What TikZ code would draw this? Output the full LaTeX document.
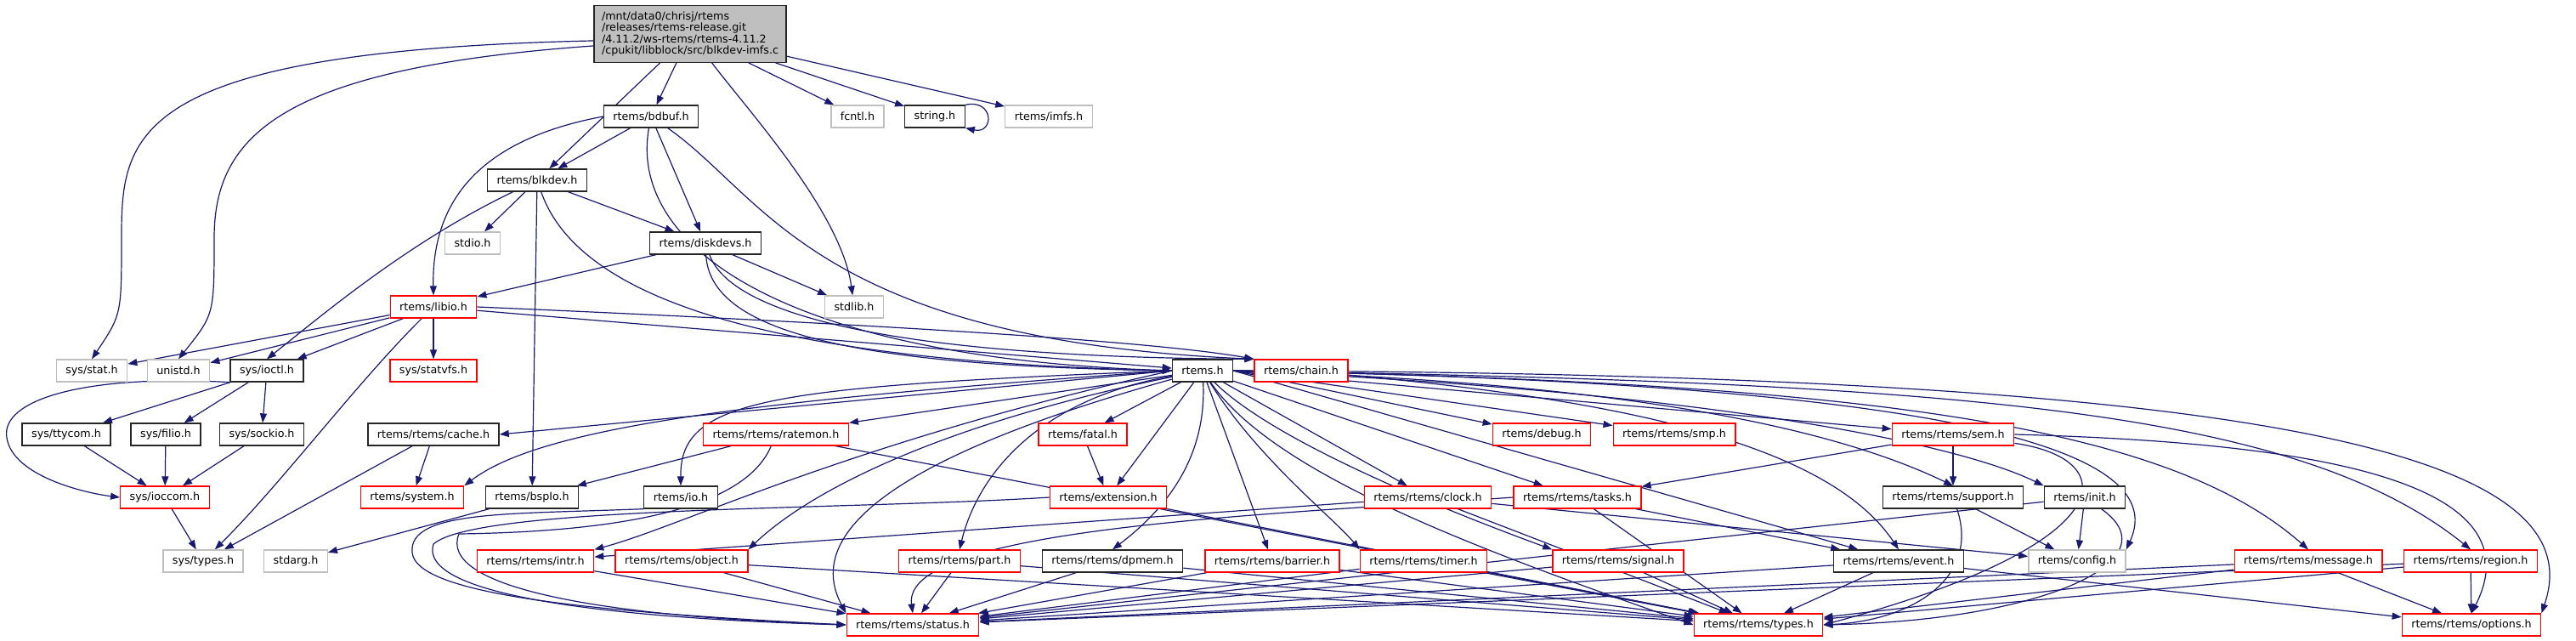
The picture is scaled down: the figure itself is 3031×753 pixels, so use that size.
\documentclass[tikz,border=0pt]{standalone}
\usepackage{fontspec}
\setmainfont{DejaVu Sans}
\usetikzlibrary{arrows.meta,backgrounds}
\definecolor{edgeblue}{RGB}{25,25,112}
\definecolor{nodegrey}{RGB}{191,191,191}
\begin{document}
\begin{tikzpicture}[x=1pt,y=-1pt,
    hbox/.style={draw, line width=1.3pt, fill=white, minimum height=26pt, inner xsep=11pt, inner ysep=0pt, font=\fontsize{12.7}{14}\selectfont},
    blackbox/.style={hbox, draw=black!85},
    redbox/.style={hbox, draw=red},
    greybox/.style={hbox, draw=nodegrey},
    dep/.style={draw=edgeblue, line width=1.2pt, -{Triangle[length=11pt,width=8pt]}}]
  \useasboundingbox (0,0) rectangle (3031,753);

  \node[blackbox, fill=nodegrey, align=left, inner ysep=7pt, inner xsep=9pt, font=\fontsize{12.7}{13.4}\selectfont] (main) at (812,40)
    {/mnt/data0/chrisj/rtems\\/releases/rtems-release.git\\/4.11.2/ws-rtems/rtems-4.11.2\\/cpukit/libblock/src/blkdev-imfs.c};

  \node[blackbox] (bdbuf) at (766,137) {rtems/bdbuf.h};
  \node[greybox] (fcntl) at (1009,137) {fcntl.h};
  \node[blackbox] (stringh) at (1100,137) {string.h};
  \node[greybox] (imfs) at (1234,137) {rtems/imfs.h};
  \node[blackbox] (blkdev) at (632,212) {rtems/blkdev.h};
  \node[greybox] (stdio) at (556,286) {stdio.h};
  \node[blackbox] (diskdevs) at (830,286) {rtems/diskdevs.h};
  \node[redbox] (libio) at (510,361) {rtems/libio.h};
  \node[greybox] (stdlib) at (1005,361) {stdlib.h};

  \node[greybox] (sysstat) at (108,436) {sys/stat.h};
  \node[greybox] (unistd) at (210,436) {unistd.h};
  \node[blackbox] (ioctl) at (314,436) {sys/ioctl.h};
  \node[redbox] (statvfs) at (510,436) {sys/statvfs.h};
  \node[blackbox] (rtemsh) at (1415,436) {rtems.h};
  \node[redbox] (chain) at (1531,436) {rtems/chain.h};

  \node[blackbox] (ttycom) at (78,511) {sys/ttycom.h};
  \node[blackbox] (filio) at (195,511) {sys/filio.h};
  \node[blackbox] (sockio) at (308,511) {sys/sockio.h};
  \node[blackbox] (cache) at (510,511) {rtems/rtems/cache.h};
  \node[redbox] (ratemon) at (913,511) {rtems/rtems/ratemon.h};
  \node[redbox] (fatal) at (1274,511) {rtems/fatal.h};
  \node[redbox] (debug) at (1814,511) {rtems/debug.h};
  \node[redbox] (smp) at (1970,511) {rtems/rtems/smp.h};
  \node[redbox] (sem) at (2298,511) {rtems/rtems/sem.h};

  \node[redbox] (ioccom) at (194,585) {sys/ioccom.h};
  \node[redbox] (system) at (485,585) {rtems/system.h};
  \node[blackbox] (bspio) at (626,585) {rtems/bspIo.h};
  \node[blackbox] (ioh) at (801,585) {rtems/io.h};
  \node[redbox] (extension) at (1304,585) {rtems/extension.h};
  \node[redbox] (clock) at (1680,585) {rtems/rtems/clock.h};
  \node[redbox] (tasks) at (1856,585) {rtems/rtems/tasks.h};
  \node[blackbox] (support) at (2298,585) {rtems/rtems/support.h};
  \node[blackbox] (init) at (2453,585) {rtems/init.h};

  \node[greybox] (systypes) at (239,660) {sys/types.h};
  \node[greybox] (stdarg) at (348,660) {stdarg.h};
  \node[redbox] (intr) at (630,660) {rtems/rtems/intr.h};
  \node[redbox] (object) at (802,660) {rtems/rtems/object.h};
  \node[redbox] (part) at (1129,660) {rtems/rtems/part.h};
  \node[blackbox] (dpmem) at (1309,660) {rtems/rtems/dpmem.h};
  \node[redbox] (barrier) at (1497,660) {rtems/rtems/barrier.h};
  \node[redbox] (timer) at (1675,660) {rtems/rtems/timer.h};
  \node[redbox] (signal) at (1904,660) {rtems/rtems/signal.h};
  \node[blackbox] (event) at (2234,660) {rtems/rtems/event.h};
  \node[greybox] (config) at (2444,660) {rtems/config.h};
  \node[redbox] (message) at (2716,660) {rtems/rtems/message.h};
  \node[redbox] (region) at (2907,660) {rtems/rtems/region.h};

  \node[redbox] (status) at (1074,735) {rtems/rtems/status.h};
  \node[redbox] (types) at (2069,735) {rtems/rtems/types.h};
  \node[redbox] (options) at (2908,735) {rtems/rtems/options.h};

  \begin{scope}[on background layer]
    % the source file
    \draw[dep] (main.184) .. controls (150,60) and (143,160) .. (143,280) .. controls (143,370) .. (sysstat.north);
    \draw[dep] (main.187) .. controls (330,80) and (252,160) .. (252,280) .. controls (252,370) .. (unistd.north);
    \draw[dep] (main) -- (blkdev);
    \draw[dep] (main) -- (bdbuf);
    \draw[dep] (main) .. controls (880,130) and (990,250) .. (stdlib);
    \draw[dep] (main) -- (fcntl);
    \draw[dep] (main) -- (stringh);
    \draw[dep] (main) -- (imfs);
    \draw[dep] (stringh.north east) .. controls (1170,116) and (1170,158) .. (stringh.south east);

    \draw[dep] (bdbuf) -- (blkdev);
    \draw[dep] (bdbuf.west) .. controls (560,165) and (508,240) .. (libio.north);
    \draw[dep] (bdbuf) -- (diskdevs);
    \draw[dep] (bdbuf) .. controls (740,280) and (900,420) .. (rtemsh.west);
    \draw[dep] (bdbuf) .. controls (900,230) and (960,400) .. (chain.north west);

    \draw[dep] (blkdev) .. controls (480,285) and (380,370) .. (ioctl.north);
    \draw[dep] (blkdev) -- (stdio);
    \draw[dep] (blkdev) -- (bspio);
    \draw[dep] (blkdev) .. controls (680,350) and (900,425) .. (rtemsh.west);
    \draw[dep] (blkdev) -- (diskdevs);

    \draw[dep] (diskdevs) -- (libio);
    \draw[dep] (diskdevs) .. controls (835,390) and (1000,430) .. (rtemsh.west);
    \draw[dep] (diskdevs) .. controls (860,370) and (1050,420) .. (chain.north west);
    \draw[dep] (diskdevs) -- (stdlib);

    \draw[dep] (libio) -- (sysstat);
    \draw[dep] (libio) -- (unistd);
    \draw[dep] (libio) -- (ioctl);
    \draw[dep] (libio) -- (statvfs);
    \draw[dep] (libio) .. controls (420,450) and (330,570) .. (systypes);
    \draw[dep] (libio) -- (rtemsh);
    \draw[dep] (libio.east) .. controls (1000,380) and (1350,400) .. (chain.north west);

    % sys headers
    \draw[dep] (ioctl) -- (ttycom);
    \draw[dep] (ioctl) -- (filio);
    \draw[dep] (ioctl) -- (sockio);
    \draw[dep] (ioctl.south west) .. controls (100,440) and (0,470) .. (8,515) .. controls (15,560) and (100,580) .. (ioccom.west);
    \draw[dep] (ttycom) -- (ioccom);
    \draw[dep] (filio) -- (ioccom);
    \draw[dep] (sockio) -- (ioccom);
    \draw[dep] (ioccom) -- (systypes);
    \draw[dep] (cache) -- (system);
    \draw[dep] (cache) -- (systypes);
    \draw[dep] (bspio) -- (stdarg);
    \draw[dep] (ratemon) -- (bspio);

    % rtems.h
    \draw[dep] (rtemsh.west) -- (cache.east);
    \draw[dep] (rtemsh.west) .. controls (900,470) and (640,500) .. (system.north east);
    \draw[dep] (rtemsh.west) .. controls (900,455) and (800,470) .. (ioh.north);
    \draw[dep] (rtemsh) -- (ratemon.north east);
    \draw[dep] (rtemsh) .. controls (1100,500) and (950,580) .. (object.north east);
    \draw[dep] (rtemsh.west) .. controls (1000,520) and (800,620) .. (intr.north east);
    \draw[dep] (rtemsh) .. controls (1150,510) and (930,600) .. (status.north west);
    \draw[dep] (rtemsh) -- (fatal);
    \draw[dep] (rtemsh) -- (extension);
    \draw[dep] (rtemsh) .. controls (1220,470) and (1150,560) .. (part.north);
    \draw[dep] (rtemsh) .. controls (1420,540) and (1370,600) .. (dpmem.north);
    \draw[dep] (rtemsh) -- (barrier);
    \draw[dep] (rtemsh) .. controls (1480,540) and (1570,610) .. (timer.north west);
    \draw[dep] (rtemsh) -- (clock);
    \draw[dep] (rtemsh) -- (tasks);
    \draw[dep] (rtemsh) .. controls (1500,520) and (1700,600) .. (signal.north west);
    \draw[dep] (rtemsh.east) -- (debug);
    \draw[dep] (rtemsh.east) -- (smp);
    \draw[dep] (rtemsh.east) -- (sem);
    \draw[dep] (rtemsh.east) .. controls (1900,450) and (2150,500) .. (support.north);
    \draw[dep] (rtemsh.east) .. controls (2000,460) and (2300,520) .. (init.north west);
    \draw[dep] (rtemsh.east) -- (event);
    \draw[dep] (rtemsh.east) .. controls (2250,450) and (2560,520) .. (config.north east);
    \draw[dep] (rtemsh.east) .. controls (2200,450) and (2550,500) .. (message.north);
    \draw[dep] (rtemsh.east) .. controls (2300,450) and (2700,480) .. (region.north);
    \draw[dep] (rtemsh.east) .. controls (2600,440) and (3060,520) .. (options.north east);
    \draw[dep] (rtemsh) .. controls (1500,560) and (1750,650) .. (types.west);

    % second level
    \draw[dep] (chain) .. controls (1900,470) and (2150,520) .. (event.north);
    \draw[dep] (fatal) -- (extension);
    \draw[dep] (sem) -- (support);
    \draw[dep] (sem) -- (tasks);
    \draw[dep] (sem) .. controls (2500,540) and (2500,640) .. (types.east);
    \draw[dep] (sem.east) .. controls (2700,520) and (2990,560) .. (options.north);
    \draw[dep] (tasks) -- (event);
    \draw[dep] (tasks) -- (types);
    \draw[dep] (tasks.west) .. controls (1500,605) and (1060,620) .. (status.north);
    \draw[dep] (clock) -- (intr);
    \draw[dep] (clock) -- (types);
    \draw[dep] (clock) -- (config);
    \draw[dep] (support) -- (config);
    \draw[dep] (support) .. controls (2330,680) and (2250,730) .. (types.east);
    \draw[dep] (init) -- (config);
    \draw[dep] (init) .. controls (2560,660) and (2400,730) .. (types.east);
    \draw[dep] (init) -- (status);
    \draw[dep] (ioh.south west) .. controls (600,605) and (480,600) .. (485,650) .. controls (490,700) and (700,720) .. (status.west);
    \draw[dep] (ratemon) .. controls (880,590) and (760,625) .. (540,628) .. controls (515,690) and (700,725) .. (status.west);
    \draw[dep] (ratemon) -- (types);
    \draw[dep] (extension.west) .. controls (1000,600) and (560,595) .. (510,640) .. controls (490,705) and (750,728) .. (status.west);
    \draw[dep] (extension) -- (types);

    % to status.h and types.h
    \foreach \src in {intr, object, part, dpmem, barrier, timer, signal, event, message, region}
      \draw[dep] (\src) -- (status);
    \foreach \src in {object, part, dpmem, barrier, timer, signal, event, message, region}
      \draw[dep] (\src) -- (types);
    \foreach \src in {event, message, region}
      \draw[dep] (\src) -- (options);
  \end{scope}
\end{tikzpicture}
\end{document}
